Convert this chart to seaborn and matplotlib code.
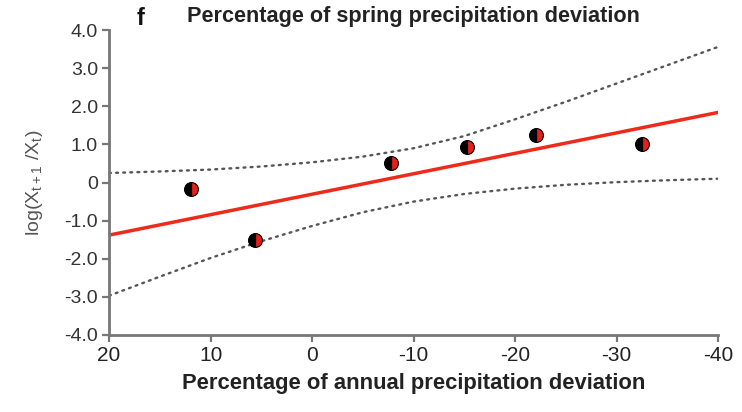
import matplotlib
matplotlib.use("Agg")
import matplotlib.pyplot as plt
import seaborn as sns
import pandas as pd

# Observed anomalies
precip_dev = [11.9, 5.65, -7.8, -15.3, -22.0, -32.5]
log_ratio = [-0.18, -1.50, 0.50, 0.94, 1.24, 1.00]

# Fitted regression line (end points)
fit_x = [20, -40]
fit_y = [-1.38, 1.84]

# 95% confidence band of the fit
band_x = [20, 15, 10, 5, 0, -5, -10, -15, -20, -25, -30, -35, -40]
band_upper = [0.25, 0.29, 0.34, 0.42, 0.53, 0.68, 0.90, 1.22, 1.66, 2.12, 2.60, 3.08, 3.56]
band_lower = [-2.97, -2.47, -1.98, -1.54, -1.14, -0.78, -0.50, -0.30, -0.16, -0.06, 0.01, 0.06, 0.10]

x_ticks = [20, 10, 0, -10, -20, -30, -40]
y_ticks = [4, 3, 2, 1, 0, -1, -2, -3, -4]
y_tick_labels = ["4.0", "3.0", "2.0", "1.0", "0", "-1.0", "-2.0", "-3.0", "-4.0"]

sns.set_theme(style="ticks")
plt.rcParams["font.family"] = ["Liberation Sans", "DejaVu Sans"]

fig = plt.figure(figsize=(7.42, 4.12), dpi=100)
ax = fig.add_axes([0.147, 0.187, 0.821, 0.740])

points = pd.DataFrame({"x": precip_dev, "y": log_ratio})
fit = pd.DataFrame({"x": fit_x, "y": fit_y})
band = pd.DataFrame({"x": band_x, "upper": band_upper, "lower": band_lower})

dot_style = dict(color="#555555", linewidth=1.7, linestyle=(0, (0.8, 2.2)),
                 dash_capstyle="round")
sns.lineplot(data=band, x="x", y="upper", ax=ax, sort=False, **dot_style)
sns.lineplot(data=band, x="x", y="lower", ax=ax, sort=False, **dot_style)
sns.lineplot(data=fit, x="x", y="y", ax=ax, color="#ee2a1b", linewidth=2.5, sort=False)
sns.lineplot(data=points, x="x", y="y", ax=ax, sort=False, linestyle="",
             marker="o", markersize=10, fillstyle="right",
             markerfacecolor="#e3201b", markerfacecoloralt="black",
             markeredgecolor="black", markeredgewidth=0.8)

ax.set_xlim(20, -40)
ax.set_ylim(-4, 4)
ax.set_xticks(x_ticks)
ax.set_xticklabels([str(v) for v in x_ticks], fontsize=15, color="#222222")
ax.set_yticks(y_ticks)
ax.set_yticklabels(y_tick_labels, fontsize=14, color="#333333")

for side in ("top", "right"):
    ax.spines[side].set_visible(False)
for side in ("left", "bottom"):
    ax.spines[side].set_color("#777777")
    ax.spines[side].set_linewidth(2)
ax.tick_params(axis="both", direction="out", length=5, width=1.6, color="#777777", pad=3)

ax.set_xlabel("Percentage of annual precipitation deviation", fontsize=15.8,
              fontweight="bold", color="#222222", labelpad=6)
ax.set_ylabel(r"log(X$_{\mathregular{t+1}}$ /X$_{\mathregular{t}}$)", fontsize=14,
              color="#555555", labelpad=14)
ax.set_title("Percentage of spring precipitation deviation", fontsize=15.6,
             fontweight="bold", color="#222222", pad=6)
fig.text(0.19, 0.955, "f", fontsize=17, fontweight="bold", color="#111111",
         ha="center", va="center")

fig.savefig("out.png", dpi=100)
